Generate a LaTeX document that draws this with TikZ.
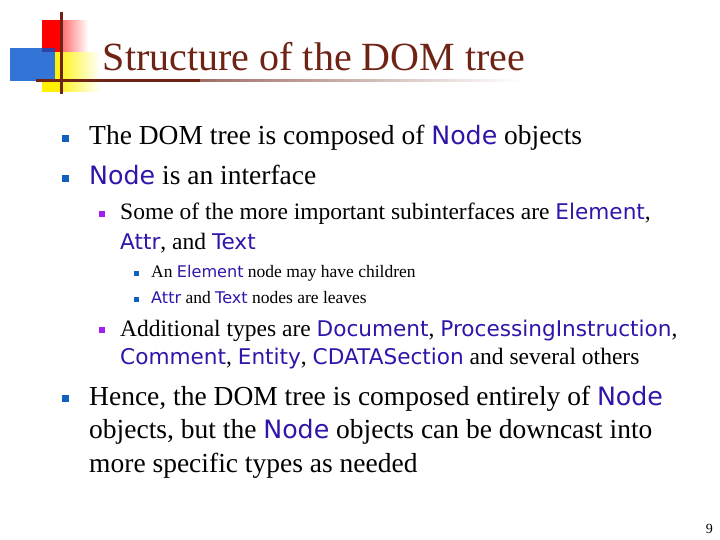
\documentclass[tikz,border=0pt]{standalone}
\usepackage{fontspec}
\setmainfont{Liberation Serif}
\newfontfamily\codef{DejaVu Sans}[Scale=0.92]
\usetikzlibrary{fadings}
\definecolor{titlec}{RGB}{110,35,20}
\definecolor{codec}{RGB}{50,20,170}
\definecolor{bula}{RGB}{16,96,192}
\definecolor{bulb}{RGB}{160,32,240}
\newcommand{\cd}[1]{{\codef\color{codec}#1}}
\begin{document}
\begin{tikzpicture}[x=1pt,y=-1pt,
  lone/.style={anchor=base west,inner sep=0pt,font=\fontsize{27.5}{30}\selectfont},
  ltwo/.style={anchor=base west,inner sep=0pt,font=\fontsize{23.5}{26}\selectfont},
  lthree/.style={anchor=base west,inner sep=0pt,font=\fontsize{17.5}{20}\selectfont}]
\useasboundingbox (0,0) rectangle (720,540);
\fill[red,path fading=east] (42,20) rectangle (88,52);
\fill[red] (42,20) rectangle (62,52);
\fill[blue!60!cyan!80!black,opacity=0.8] (10,48) rectangle (55,81);
\fill[yellow,path fading=east] (55,52) rectangle (100,92);
\fill[yellow] (42,81) rectangle (62,92);
\fill[titlec,path fading=east] (36,79) rectangle (520,82);
\fill[titlec] (36,79) rectangle (200,82);
\fill[titlec] (59.5,12) rectangle (62.5,94);
\node[anchor=base,inner sep=0pt,text=titlec,font=\fontsize{40}{44}\selectfont] (title) at (314,71) {Structure of the DOM tree};
% level 1
\fill[bula] (62,135) rectangle (69,142);
\node[lone] (a1) at (89,145) {The DOM tree is composed of \cd{Node} objects};
\fill[bula] (62,175) rectangle (69,182);
\node[lone] (a2) at (89,185) {\cd{Node} is an interface};
\fill[bulb] (99,211) rectangle (105,217);
\node[ltwo] (b1) at (120,220) {Some of the more important subinterfaces are \cd{Element},};
\node[ltwo] (b1b) at (120,249) {\cd{Attr}, and \cd{Text}};
\fill[bula] (134,271) rectangle (139,276);
\node[lthree] (c1) at (151,277) {An \cd{Element} node may have children};
\fill[bula] (134,297) rectangle (139,302);
\node[lthree] (c2) at (151,303) {\cd{Attr} and \cd{Text} nodes are leaves};
\fill[bulb] (99,327) rectangle (105,333);
\node[ltwo] (b2) at (120,336) {Additional types are \cd{Document}, \cd{ProcessingInstruction},};
\node[ltwo] (b2b) at (120,364) {\cd{Comment}, \cd{Entity}, \cd{CDATASection} and several others};
\fill[bula] (62,395) rectangle (69,402);
\node[lone] (a3) at (89,405) {Hence, the DOM tree is composed entirely of \cd{Node}};
\node[lone] (a3b) at (89,438) {objects, but the \cd{Node} objects can be downcast into};
\node[lone] (a3c) at (89,472) {more specific types as needed};
\node[anchor=base east,inner sep=0pt,font=\fontsize{14}{15}\selectfont] (pg) at (713,533) {9};
\end{tikzpicture}
\end{document}
